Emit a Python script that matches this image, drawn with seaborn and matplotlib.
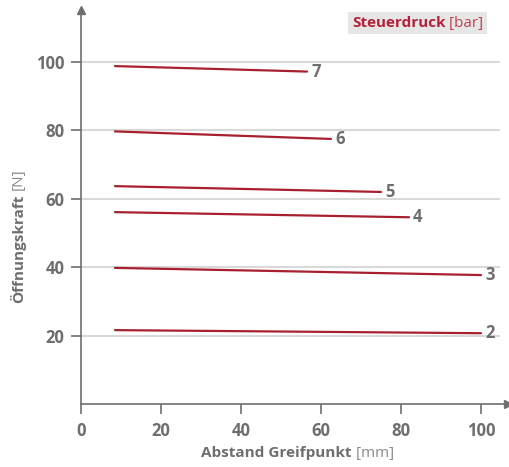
import matplotlib
matplotlib.use("Agg")
import matplotlib.pyplot as plt
import seaborn as sns
import pandas as pd

# Steuerdruck [bar] and the two end points of each line
druck = [2, 3, 4, 5, 6, 7]
abstand_start = [8.5, 8.5, 8.5, 8.5, 8.5, 8.5]
abstand_ende = [100, 100, 82, 75, 62.5, 56.5]
kraft_start = [21.6, 39.8, 56.1, 63.7, 79.7, 98.8]
kraft_ende = [20.7, 37.7, 54.6, 62.0, 77.5, 97.2]

x_ticks = [0, 20, 40, 60, 80, 100]
y_ticks = [20, 40, 60, 80, 100]

rows = []
for d, xs, xe, ys, ye in zip(druck, abstand_start, abstand_ende, kraft_start, kraft_ende):
    rows.append({"druck": d, "abstand": xs, "kraft": ys})
    rows.append({"druck": d, "abstand": xe, "kraft": ye})
df = pd.DataFrame(rows)

sns.set_style("white")
plt.rcParams["font.family"] = ["Open Sans", "DejaVu Sans"]

grey = "#6e6e6e"
axis_grey = "#6e6e6e"
red = "#a8202f"
fs = 11

fig = plt.figure(figsize=(5.1, 4.67), dpi=100)
ax = fig.add_axes([81 / 510, 63 / 467, 427 / 510, 394 / 467])
ax.set_xlim(0, 106.75)
ax.set_ylim(0, 115.2)

# grid lines
ax.hlines(y_ticks, 0, 104.8, color="#d9d9d9", lw=1.5, zorder=1)

sns.lineplot(data=df, x="abstand", y="kraft", units="druck", estimator=None,
             color=red, lw=1.6, ax=ax, zorder=3)

for d, xe, ye in zip(druck, abstand_ende, kraft_ende):
    ax.annotate(str(d), (xe, ye), xytext=(3, 0), textcoords="offset points",
                ha="left", va="center", fontsize=12, fontweight="bold", color=grey)

for s in ["top", "right"]:
    ax.spines[s].set_visible(False)
for s in ["left", "bottom"]:
    ax.spines[s].set_color(axis_grey)
    ax.spines[s].set_linewidth(1.2)

# arrow heads
ax.plot(1, 0, ">", transform=ax.transAxes, clip_on=False, color=axis_grey, ms=6)
ax.plot(0, 1, "^", transform=ax.transAxes, clip_on=False, color=axis_grey, ms=6)

ax.set_xticks(x_ticks)
ax.set_yticks(y_ticks)
ax.tick_params(axis="both", direction="out", length=7, width=1.2, color=axis_grey,
               labelsize=12, labelcolor=grey, left=True, bottom=True)
ax.tick_params(axis="x", pad=6)
ax.tick_params(axis="y", pad=5)
for lab in ax.get_xticklabels() + ax.get_yticklabels():
    lab.set_fontweight("bold")
ax.set_xlabel("")
ax.set_ylabel("")

# x axis label
tx = fig.text(352 / 510, 1 - 453 / 467, "Abstand Greifpunkt", ha="right", va="center",
              fontsize=fs, fontweight="bold", color=grey)
ax.annotate(" [mm]", xy=(1, 0.5), xycoords=tx, ha="left", va="center",
            fontsize=fs, color="#8a8a8a")

# y axis label
ty = fig.text(18 / 510, 1 - 303 / 467, "Öffnungskraft", ha="center", va="bottom",
              rotation=90, fontsize=fs, fontweight="bold", color=grey)
ax.annotate("[N]", xy=(0.5, 1), xycoords=ty, xytext=(0, 3), textcoords="offset points",
            ha="center", va="bottom", rotation=90, fontsize=fs, color="#8a8a8a")

# legend title box
box = dict(facecolor="#e6e6e6", edgecolor="none", pad=2.5)
tl = fig.text(352 / 510, 1 - 23 / 467, "Steuerdruck", ha="left", va="center",
              fontsize=fs, fontweight="bold", color="#b5213a", bbox=box)
ax.annotate(" [bar]", xy=(1, 0.5), xycoords=tl, ha="left", va="center",
            fontsize=fs, color="#c0404f", bbox=box)

fig.savefig("out.png", dpi=100)
